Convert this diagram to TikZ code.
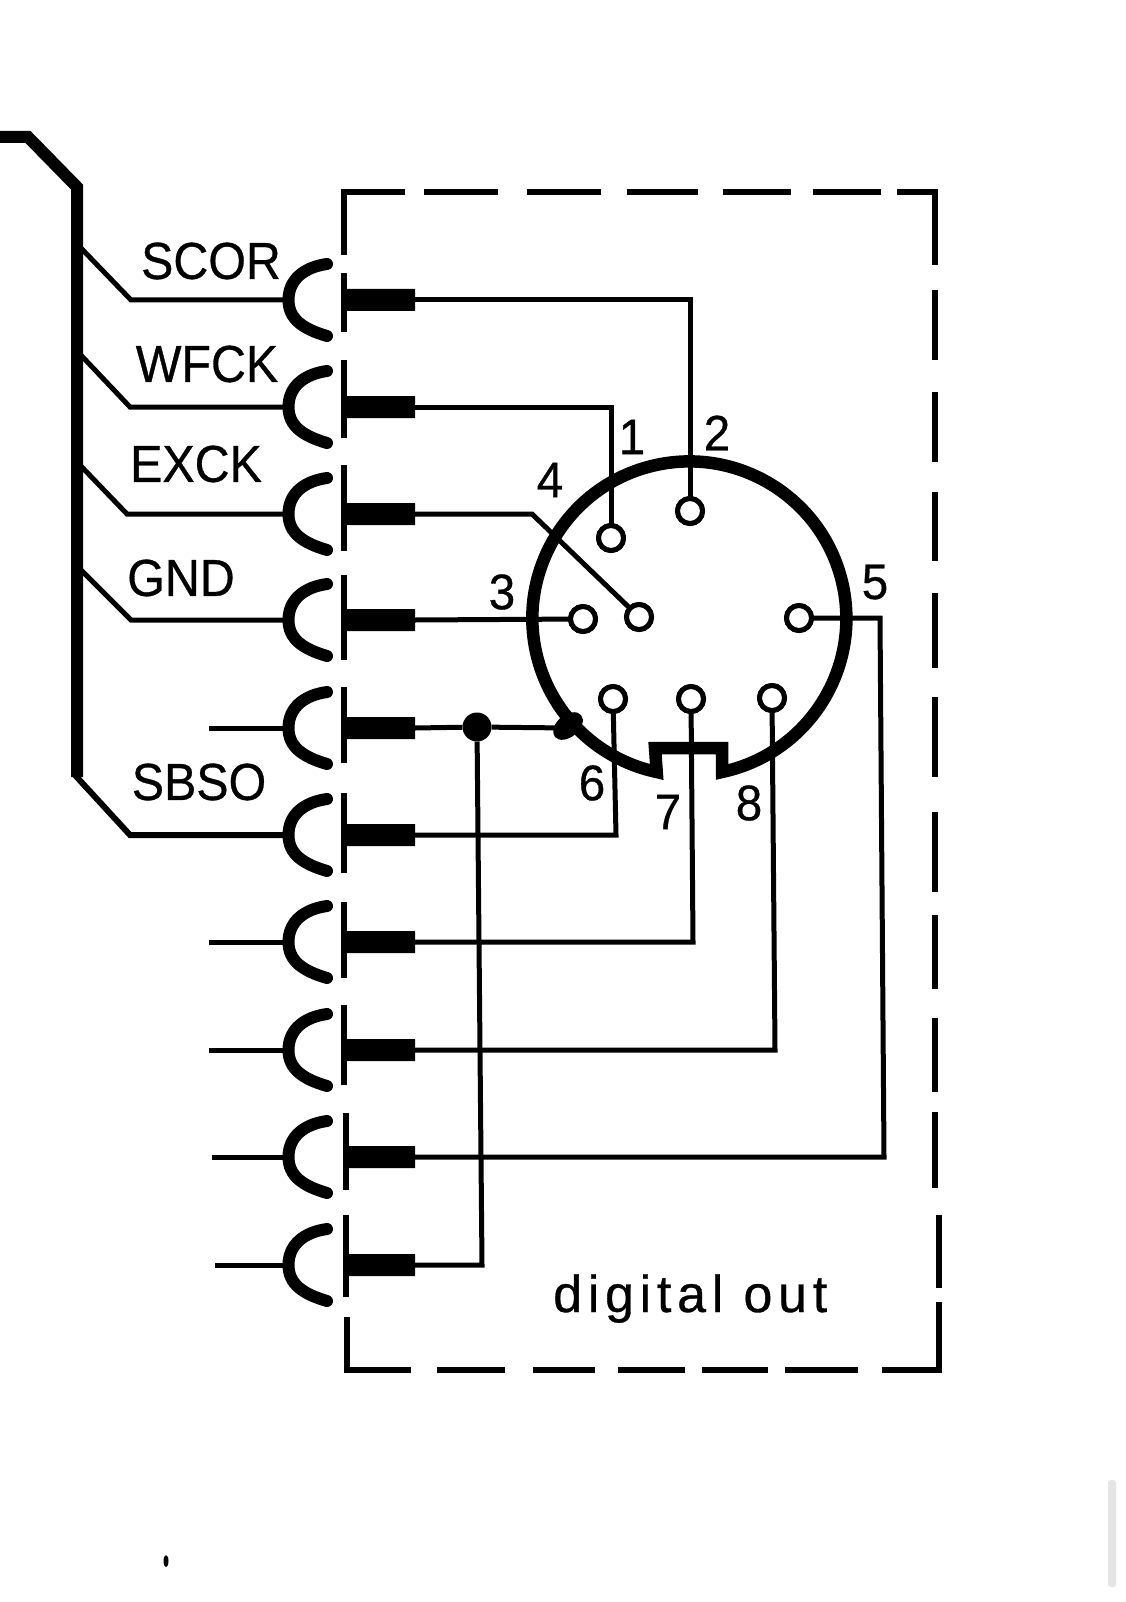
\documentclass[tikz,border=0pt]{standalone}
\usepackage{fontspec}
\setmainfont{Liberation Sans}
\usetikzlibrary{shapes.misc,calc}
\tikzset{
  wire/.style={line width=5pt,line cap=butt,line join=miter},
  bus/.style={line width=12pt,line join=miter},
  dashseg/.style={line width=6.5pt},
  socket/.style={line width=12pt,line cap=round},
  plug/.style={chamfered rectangle,chamfered rectangle xsep=4pt,chamfered rectangle ysep=5pt,
     chamfered rectangle corners={north east,south east},fill=black,draw=none,
     minimum width=68pt,minimum height=22pt,inner sep=0pt,outer sep=0pt},
  pin/.style={circle,draw,line width=5pt,fill=white,minimum size=25pt,inner sep=0pt,outer sep=0pt},
  lab/.style={inner sep=0pt,outer sep=0pt,font=\fontsize{52}{52}\selectfont\addfontfeature{FakeBold=0.6},xscale=.93},
  num/.style={inner sep=0pt,outer sep=0pt,font=\fontsize{50}{50}\selectfont\addfontfeature{FakeBold=0.6},xscale=.95},
}
\begin{document}
\begin{tikzpicture}[x=1pt,y=-1pt]
\useasboundingbox (0,0) rectangle (1125,1602);
\fill[white] (0,0) rectangle (1125,1602);
% bus
\coordinate (b0) at (0,137);
\coordinate (b1) at (28,137);
\coordinate (b2) at (77,187);
\coordinate (b3) at (77,777);
\draw[bus] (b0) -- (b1) -- (b2) -- (b3);
% dashed box
\foreach \a/\b in {344/405,424/498,527/601,627/698,723/791,813/881,897/938}
  \draw[dashseg] (\a,192) -- (\b,192);
\foreach \a/\b in {345/411,437/505,533/595,618/685,702/768,785/858,882/942}
  \draw[dashseg] (\a,1370) -- (\b,1370);
\foreach \a/\b in {189/265,290/360,392/462,492/561,593/668,697/777,812/892,915/989,1018/1092,1112/1188}
  \draw[dashseg] (935,\a) -- (935,\b);
\foreach \a/\b in {1215/1288,1302/1373}
  \draw[dashseg] (939,\a) -- (939,\b);
\foreach \a/\b in {189/255,273/332,360/438,465/551,575/660,687/763,793/873,902/978,1005/1085}
  \draw[dashseg] (344,\a) -- (344,\b);
\foreach \a/\b in {1113/1190,1215/1297}
  \draw[dashseg] (346,\a) -- (346,\b);
\draw[dashseg] (347,1317) -- (347,1373);
% sockets and plugs
\foreach \i/\r in {1/300,2/407,3/514,4/620,5/728,6/835,7/942,8/1050,9/1157,10/1265}{
  \draw[socket] (327,\r-36) .. controls (305,\r-33) and (288.5,\r-21) .. (288.5,\r)
                .. controls (288.5,\r+19) and (303,\r+29) .. (327,\r+36);
  \coordinate (s\i) at (285,\r);
  \node[plug] (p\i) at (381,\r) {};
}
% named branches
\coordinate (t1) at (77,244); \coordinate (k1) at (131,300);
\coordinate (t2) at (77,351); \coordinate (k2) at (130,407);
\coordinate (t3) at (77,462); \coordinate (k3) at (127,514);
\coordinate (t4) at (77,566); \coordinate (k4) at (131,620);
\coordinate (k6) at (130,835);
\draw[wire] (t1) -- (k1) -- (s1);
\draw[wire] (t2) -- (k2) -- (s2);
\draw[wire] (t3) -- (k3) -- (s3);
\draw[wire] (t4) -- (k4) -- (s4);
\coordinate (b4) at (74,774);
\draw[wire,line width=6pt] (b4) -- (k6) -- (s6);
\coordinate (f5) at (209,728); \draw[wire] (f5) -- (s5);
\coordinate (f7) at (209,942); \draw[wire] (f7) -- (s7);
\coordinate (f8) at (209,1050); \draw[wire] (f8) -- (s8);
\coordinate (f9) at (212,1157); \draw[wire] (f9) -- (s9);
\coordinate (f10) at (215,1265); \draw[wire] (f10) -- (s10);
% connector shell
\draw[line width=12.5pt,line join=miter]
  (722,772) arc[start angle=-78,end angle=258,radius=157pt] -- (655,748) -- (722,748) -- cycle;
\fill[rotate around={40:(568,726)}] (568,726) ellipse [x radius=17pt,y radius=11pt];
% wires to the pins (drawn under the pins)
\node[pin] (pa) at (611,538) {};
\node[pin] (pb) at (690,511) {};
\node[pin] (pc) at (583,619) {};
\node[pin] (pd) at (639,617) {};
\node[pin] (pe) at (799,618) {};
\node[pin] (pf) at (613,699) {};
\node[pin] (pg) at (691,699) {};
\node[pin] (ph) at (772,698) {};
\coordinate (c1) at (pb |- p1);
\coordinate (c2) at (pa |- p2);
\coordinate (c3) at (532,514);
\coordinate (c5a) at (880,618);
\coordinate (c5b) at (884,1157);
\coordinate (c6) at (616,835);
\coordinate (c7) at (693,942);
\coordinate (c8) at (775,1050);
\draw[wire] (p1.east) -- (c1) -- (pb);
\draw[wire] (p2.east) -- (c2) -- (pa);
\draw[wire] (p3.east) -- (c3) -- (pd);
\draw[wire] (p4.east) -- (pc);
\draw[wire] (pe) -- (c5a) -- (c5b) -- (p9.east);
\draw[wire] (p6.east) -- (c6) -- (pf);
\draw[wire] (p7.east) -- (c7) -- (pg);
\draw[wire] (p8.east) -- (c8) -- (ph);
% junction
\node[circle,fill=black,minimum size=29pt,inner sep=0pt] (j) at (477,727) {};
\coordinate (c10) at (482,1265);
\coordinate (c5) at (568,728);
\draw[wire] (p5.east) -- (j) -- (c5);
\draw[wire] (j) -- (c10) -- (p10.east);
% redraw pins above the wires
\foreach \n/\x/\y in {pa/611/538,pb/690/511,pc/583/619,pd/639/617,pe/799/618,pf/613/699,pg/691/699,ph/772/698}
  \node[pin] at (\x,\y) {};
% labels
\node[lab] (lscor) at (211,261) {SCOR};
\node[lab] (lwfck) at (207,364) {WFCK};
\node[lab] (lexck) at (196,464) {EXCK};
\node[lab] (lgnd) at (181,578) {GND};
\node[lab] (lsbso) at (199,782) {SBSO};
\node[num] (n1) at (632,437) {1};
\node[num] (n2) at (717,433) {2};
\node[num] (n3) at (502,592) {3};
\node[num] (n4) at (550,480) {4};
\node[num] (n5) at (875,582) {5};
\node[num] (n6) at (592,783) {6};
\node[num] (n7) at (668,812) {7};
\node[num] (n8) at (749,803) {8};
\node[anchor=base west,inner sep=0pt,font=\fontsize{52}{52}\selectfont\addfontfeature{LetterSpace=11,FakeBold=0.6}] (lout) at (553,1312) {digital out};
% screenshot marks
\fill (166,1561) ellipse [x radius=2.5pt,y radius=6pt];
\fill[black!10,rounded corners=3pt] (1108,1480) rectangle (1116,1587);
\end{tikzpicture}
\end{document}
